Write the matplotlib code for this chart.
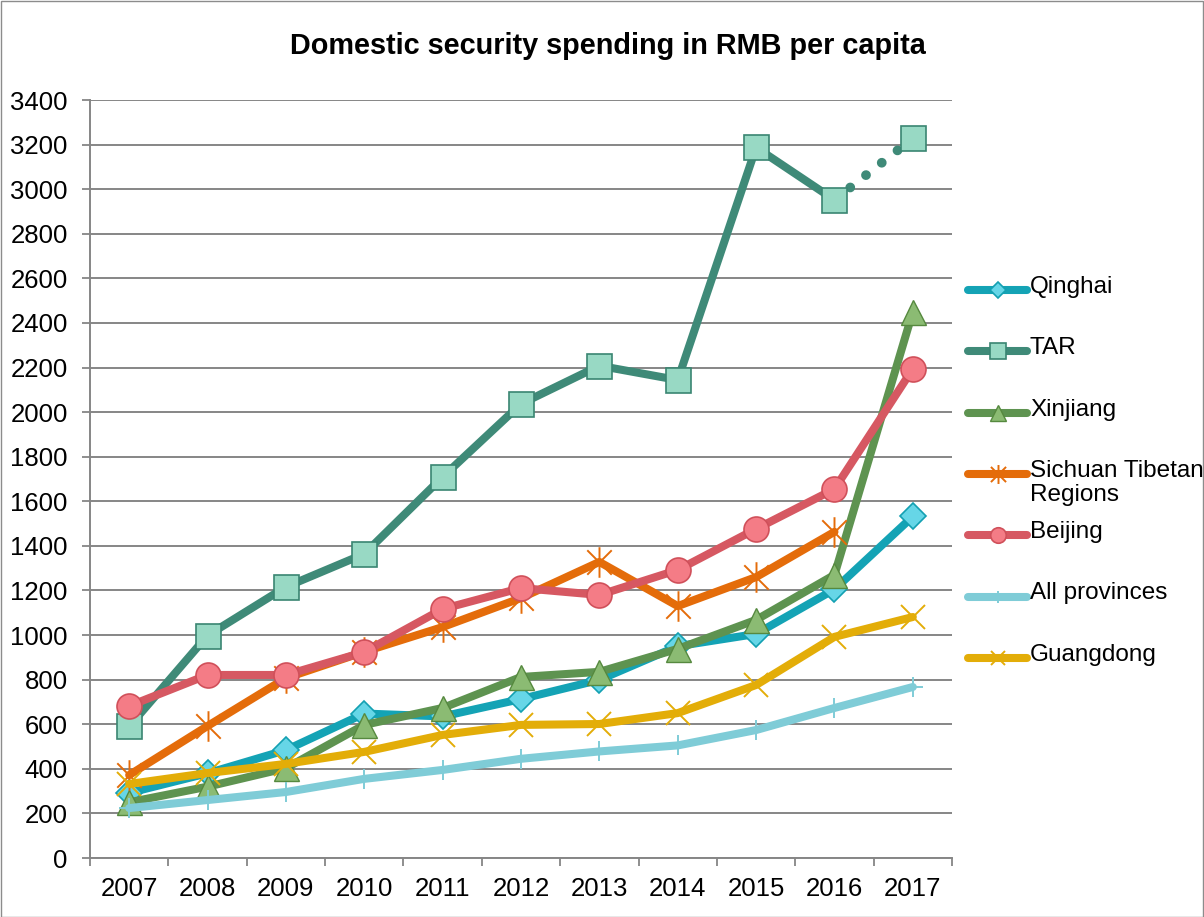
import numpy as np
import matplotlib
matplotlib.use("Agg")
import matplotlib.pyplot as plt
from matplotlib.lines import Line2D
from matplotlib.path import Path
from matplotlib.patches import Rectangle

plt.rcParams['font.family'] = ['Liberation Sans', 'DejaVu Sans']

years = ['2007', '2008', '2009', '2010', '2011', '2012', '2013', '2014', '2015', '2016', '2017']

qinghai = [292, 380, 484, 648, 635, 713, 799, 950, 1005, 1205, 1532]
tar = [590, 998, 1216, 1364, 1709, 2037, 2208, 2144, 3187, 2952, 3228]
xinjiang = [250, 320, 403, 597, 673, 812, 835, 938, 1068, 1270, 2450]
sichuan = [372, 592, 807, 925, 1036, 1166, 1328, 1130, 1260, 1463, np.nan]
beijing = [682, 821, 821, 924, 1117, 1211, 1180, 1292, 1476, 1655, 2194]
all_prov = [224, 260, 296, 355, 395, 445, 478, 505, 574, 673, 767]
guangdong = [332, 381, 422, 476, 552, 597, 601, 650, 776, 992, 1081]

names = ['Qinghai', 'TAR', 'Xinjiang', 'Sichuan Tibetan\nRegions', 'Beijing',
         'All provinces', 'Guangdong']
series = [qinghai, tar, xinjiang, sichuan, beijing, all_prov, guangdong]

# asterisk marker (x plus vertical bar) like the Excel star marker
star = Path([(-1, -1), (1, 1), (-1, 1), (1, -1), (0, -1.25), (0, 1.25)],
            [Path.MOVETO, Path.LINETO, Path.MOVETO, Path.LINETO, Path.MOVETO, Path.LINETO])

styles = [
    dict(color='#14A3B5', marker='D', ms=13, mfc='#66D6E7', mec='#13A0B2', mew=1.2),
    dict(color='#3F8A78', marker='s', ms=18, mfc='#98D9C4', mec='#3A8572', mew=1.2),
    dict(color='#5E9350', marker='^', ms=18, mfc='#8BBB73', mec='#56893F', mew=1.0),
    dict(color='#E46C0A', marker=star, ms=22, mfc='none', mec='#E46C0A', mew=1.4),
    dict(color='#D65862', marker='o', ms=18, mfc='#F47C86', mec='#D0505A', mew=1.2),
    dict(color='#7FCCD7', marker='+', ms=14, mfc='none', mec='#7FCCD7', mew=1.4),
    dict(color='#E3AD08', marker='x', ms=17, mfc='none', mec='#E3AD08', mew=1.4),
]

W, H = 1204, 917
fig = plt.figure(figsize=(W / 100, H / 100), dpi=100)
ax = fig.add_axes([90 / W, 1 - 858 / H, (952 - 90) / W, (858 - 100) / H])

x = np.arange(len(years))
lw = 5.8
for i, (vals, st) in enumerate(zip(series, styles)):
    vals = np.array(vals, dtype=float)
    if names[i] == 'TAR':
        # last segment is dotted, drawn under the markers
        ax.plot(x[-2:], vals[-2:], color=st['color'], lw=7, linestyle=(0, (0.01, 2.05)),
                dash_capstyle='round')
        ax.plot(x[:-1], vals[:-1], lw=lw, solid_capstyle='round', solid_joinstyle='round', **st)
        ax.plot(x[-1:], vals[-1:], lw=0, **st)
    else:
        ax.plot(x, vals, lw=lw, solid_capstyle='round', solid_joinstyle='round', **st)

ax.set_xlim(-0.5, len(years) - 0.5)
ax.set_ylim(0, 3400)
ax.set_yticks(np.arange(0, 3401, 200))
ax.set_xticks(x)
ax.set_xticklabels(years)
ax.set_xticks(np.arange(-0.5, len(years), 1.0), minor=True)
ax.tick_params(axis='x', which='major', length=0, pad=14, labelsize=18.5)
ax.tick_params(axis='x', which='minor', length=6, width=1.3, color='#868686', direction='out')
ax.tick_params(axis='y', length=6, width=1.3, color='#868686', pad=10, labelsize=18.5)
ax.grid(axis='y', color='#868686', lw=1.4)
ax.set_axisbelow(True)
for s in ['top', 'right']:
    ax.spines[s].set_visible(False)
for s in ['left', 'bottom']:
    ax.spines[s].set_color('#868686')
    ax.spines[s].set_linewidth(1.4)

fig.text(608 / W, 1 - 46 / H, 'Domestic security spending in RMB per capita',
         ha='center', va='center', fontsize=20.8, fontweight='bold')

# legend drawn by hand so the two-line entry keeps Excel's row spacing
for i, (name, st) in enumerate(zip(names, styles)):
    py = 290 + 61.3 * i
    yy = 1 - py / H
    lst = dict(st)
    lst['ms'] = st['ms'] * 0.62
    fig.add_artist(Line2D([968 / W, 1027 / W], [yy, yy], lw=lw, solid_capstyle='round',
                          transform=fig.transFigure, markevery=[], **lst))
    fig.add_artist(Line2D([997.5 / W], [yy], lw=0, transform=fig.transFigure, **lst))
    fig.text(1030 / W, 1 - (py - 14) / H, name, ha='left', va='top', fontsize=17.5,
             linespacing=1.1)

fig.add_artist(Rectangle((0.5 / W, 0.5 / H), 1 - 1.5 / W, 1 - 1.5 / H, transform=fig.transFigure,
                         fill=False, edgecolor='#8C8C8C', lw=1.0))

fig.savefig('out.png', dpi=100)
